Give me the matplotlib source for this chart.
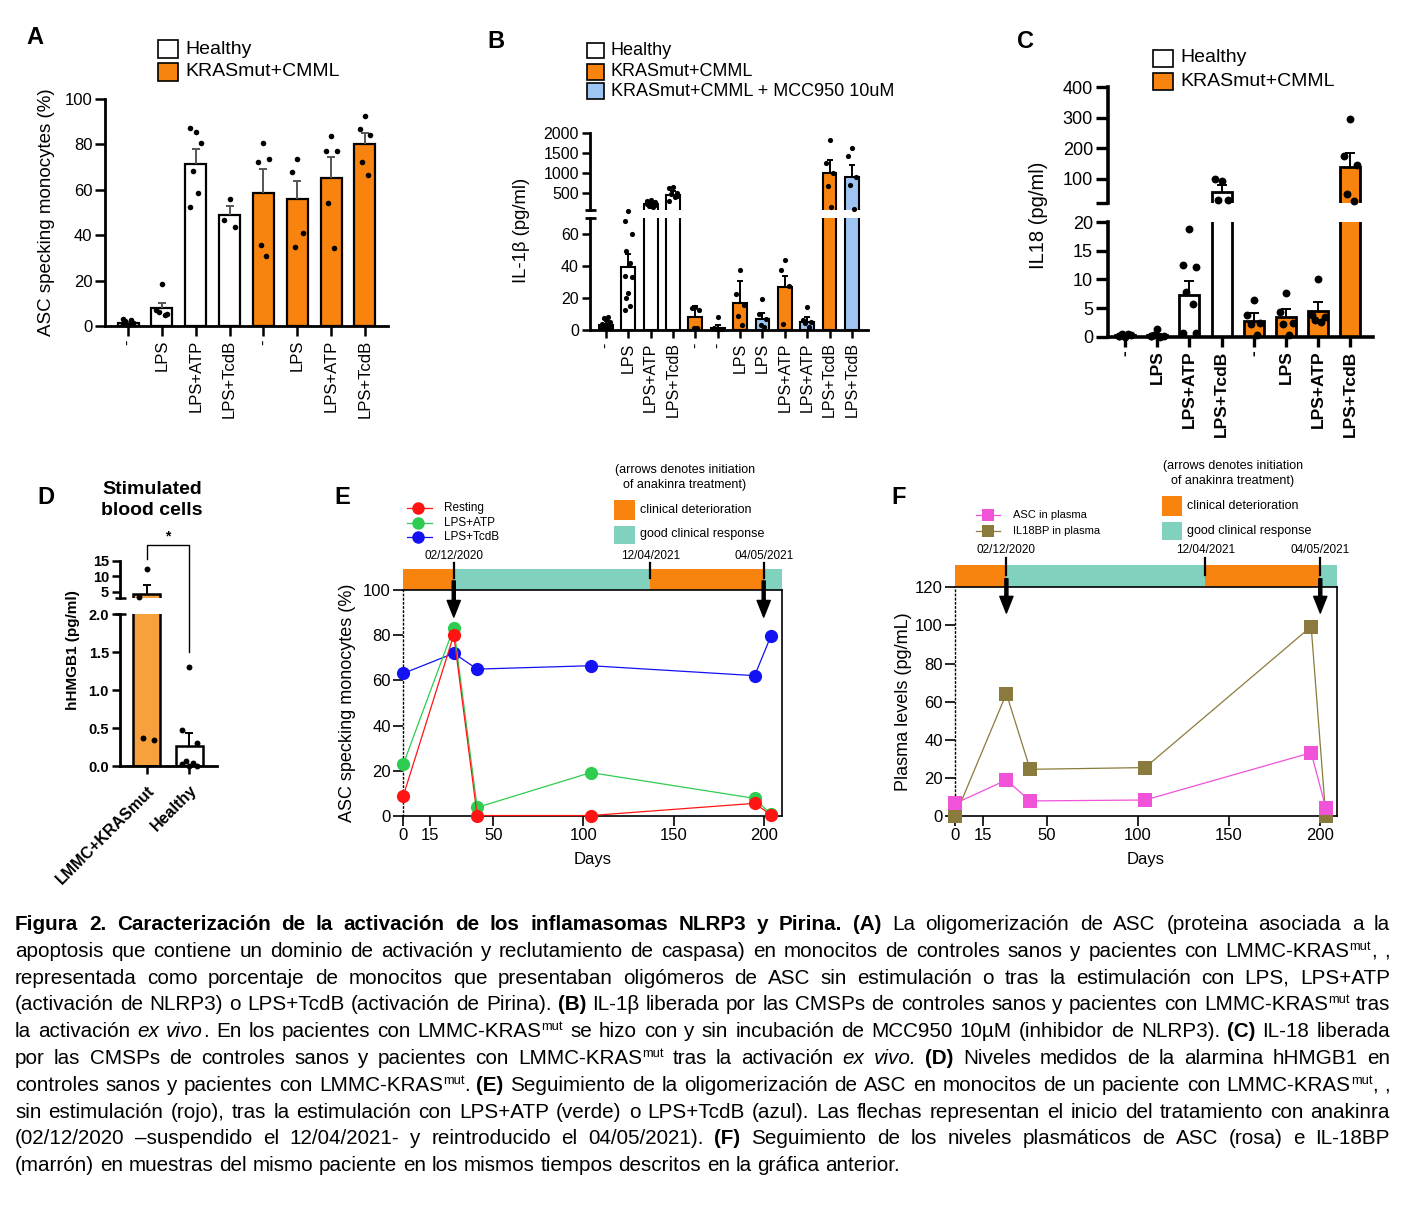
import numpy as np
import matplotlib
matplotlib.use('Agg')
import matplotlib.pyplot as plt
from matplotlib.patches import Rectangle
from matplotlib.lines import Line2D

# ------------------------------------------------------------------ data
A_labels = ['-', 'LPS', 'LPS+ATP', 'LPS+TcdB', '-', 'LPS', 'LPS+ATP', 'LPS+TcdB']
A_group = ['H', 'H', 'H', 'H', 'K', 'K', 'K', 'K']
A_mean = [1.5, 8.0, 71.5, 49.0, 58.5, 56.0, 65.0, 80.0]
A_sem = [0.4, 2.2, 6.3, 3.7, 10.5, 8.0, 9.6, 4.9]
A_points = [[0.5, 1.0, 1.5, 2.0, 2.5, 3.0, 1.2],
            [18.7, 7.0, 5.5, 6.2, 5.0],
            [85.6, 87.1, 80.5, 68.3, 58.4, 52.6],
            [56.0, 46.7, 43.5],
            [80.5, 72.4, 73.4, 35.7, 30.8],
            [73.4, 68.0, 40.8, 34.7],
            [83.7, 77.1, 77.1, 54.3, 34.2],
            [92.7, 86.6, 84.1, 72.4, 66.5]]

B_labels = ['-', 'LPS', 'LPS+ATP', 'LPS+TcdB', '-', '-', 'LPS', 'LPS',
            'LPS+ATP', 'LPS+ATP', 'LPS+TcdB', 'LPS+TcdB']
B_group = ['H', 'H', 'H', 'H', 'K', 'M', 'K', 'M', 'K', 'M', 'K', 'M']
B_mean = [3.0, 39.5, 240, 460, 7.9, 1.5, 17.1, 6.7, 26.8, 5.0, 1015, 915]
B_sem = [0.8, 7.9, 25, 90, 7.0, 1.5, 13.6, 3.7, 7.2, 2.9, 320, 290]
B_points = [[0.5, 1.0, 1.5, 2.0, 3.0, 4.0, 5.0, 6.0, 7.5, 8.0, 2.5, 1.0],
            [74.6, 68.3, 60.0, 49.7, 41.8, 34.0, 33.0, 23.0, 19.8, 15.0, 12.5],
            [330, 300, 280, 260, 240, 220, 200, 190, 170, 150, 280, 230],
            [650, 640, 500, 480, 400, 300, 420],
            [14.5, 14.0, 12.5, 1.5, 1.5],
            [7.9, 1.0, 0.4, 0.4, 0.5],
            [37.6, 22.4, 15.5, 8.8, 3.1],
            [19.4, 9.8, 6.7, 3.1, 2.0],
            [43.9, 37.6, 27.6, 3.8],
            [14.2, 6.3, 4.8, 4.2, 2.0],
            [1833, 1250, 1015, 683, 165],
            [1625, 1433, 915, 708, 100]]

C_labels = ['-', 'LPS', 'LPS+ATP', 'LPS+TcdB', '-', 'LPS', 'LPS+ATP', 'LPS+TcdB']
C_group = ['H', 'H', 'H', 'H', 'K', 'K', 'K', 'K']
C_mean = [0.3, 0.3, 7.3, 58.5, 2.8, 3.5, 4.5, 138]
C_sem = [0.1, 0.2, 2.5, 21, 1.3, 1.3, 1.5, 48]
C_points = [[0.0, 0.2, 0.3, 0.4, 0.5, 0.1],
            [1.3, 0.2, 0.1, 0.3, 0.0, 0.2],
            [18.8, 12.5, 12.2, 7.9, 5.7, 0.7, 0.7],
            [93.5, 99.0, 31.0, 32.0],
            [6.5, 3.8, 2.4, 2.2, 0.3],
            [7.7, 4.4, 2.4, 2.3, 0.3],
            [10.0, 3.8, 3.5, 2.9, 2.6],
            [295, 175, 146, 51, 26]]

D_labels = ['LMMC+KRASmut', 'Healthy']
D_group = ['D', 'H']
D_mean = [4.3, 0.26]
D_sem = [2.7, 0.17]
D_points = [[12.3, 3.2, 0.34, 0.37],
            [1.3, 0.48, 0.30, 0.06, 0.04, 0.03, 0.0, 0.0]]

E_days = [0, 28, 41, 104, 195, 204]
E_series = ['Resting', 'LPS+ATP', 'LPS+TcdB']
E_resting = [8.9, 80.1, 0.2, 0.2, 5.6, 0.5]
E_lpsatp = [22.9, 83.3, 3.8, 19.2, 7.8, 0.7]
E_lpstcdb = [63.1, 72.0, 65.0, 66.5, 62.1, 79.6]

F_days = [0, 28, 41, 104, 195, 203]
F_series = ['ASC in plasma', 'IL18BP in plasma']
F_asc = [6.6, 18.9, 7.9, 8.4, 33.2, 4.4]
F_il18bp = [0.2, 64.2, 24.5, 25.4, 99.4, 0.0]

phase_start = [0, 28, 137, 200]
phase_end_E = [28, 137, 200, 210]
phase_end_F = [28, 137, 200, 209]
phase_kind = ['det', 'good', 'det', 'good']
date_days = [28, 137, 200]
date_labels = ['02/12/2020', '12/04/2021', '04/05/2021']
arrow_days = [28, 200]

caption_lines = [
    "*Figura 2. Caracterización de la activación de los inflamasomas NLRP3 y Pirina. (A)* La oligomerización de ASC (proteina asociada a la",
    "apoptosis que contiene un dominio de activación y reclutamiento de caspasa) en monocitos de controles sanos y pacientes con LMMC-KRAS^mut^, ,",
    "representada como porcentaje de monocitos que presentaban oligómeros de ASC sin estimulación o tras la estimulación con LPS, LPS+ATP",
    "(activación de NLRP3) o LPS+TcdB (activación de Pirina). *(B)* IL-1β liberada por las CMSPs de controles sanos y pacientes con LMMC-KRAS^mut^ tras",
    "la activación _ex vivo_. En los pacientes con LMMC-KRAS^mut^ se hizo con y sin incubación de MCC950 10µM (inhibidor de NLRP3). *(C)* IL-18 liberada",
    "por las CMSPs de controles sanos y pacientes con LMMC-KRAS^mut^ tras la activación _ex vivo._ *(D)* Niveles medidos de la alarmina hHMGB1 en",
    "controles sanos y pacientes con LMMC-KRAS^mut^. *(E)* Seguimiento de la oligomerización de ASC en monocitos de un paciente con LMMC-KRAS^mut^, ,",
    "sin estimulación (rojo), tras la estimulación con LPS+ATP (verde) o LPS+TcdB (azul). Las flechas representan el inicio del tratamiento con anakinra",
    "(02/12/2020 –suspendido el 12/04/2021- y reintroducido el 04/05/2021). *(F)* Seguimiento de los niveles plasmáticos de ASC (rosa) e IL-18BP",
    "(marrón) en muestras del mismo paciente en los mismos tiempos descritos en la gráfica anterior.",
]

# ------------------------------------------------------------------ style
ORANGE = '#F8830F'
BLUE = '#9DC4F2'
TEAL = '#80D1BE'
DORANGE = '#F7A13E'
gcol = {'H': 'white', 'K': ORANGE, 'M': BLUE, 'D': DORANGE}
phase_col = {'det': ORANGE, 'good': TEAL}

plt.rcParams['font.family'] = ['Liberation Sans', 'DejaVu Sans']

W, H = 1402, 1224
fig = plt.figure(figsize=(W / 100, H / 100), dpi=100)


def R(l, t, r, b):
    return [l / W, 1 - b / H, (r - l) / W, (b - t) / H]


def ftext(x, y, s, **kw):
    return fig.text(x / W, 1 - y / H, s, **kw)


def fline(xs, ys, **kw):
    ln = Line2D([x / W for x in xs], [1 - y / H for y in ys], transform=fig.transFigure, **kw)
    fig.add_artist(ln)
    return ln


def frect(l, t, r, b, **kw):
    p = Rectangle((l / W, 1 - b / H), (r - l) / W, (b - t) / H, transform=fig.transFigure, **kw)
    fig.add_artist(p)
    return p


PATTERN = np.array([0, -1, 1, -0.5, 0.5, -1, 1, 0, -0.5, 0.5, -1, 1, 0])


def draw_bars(panes, mean, sem, groups, points, ecolor, dot_s, bar_lw, capsize, jit=0.16, width=0.62):
    """panes: list of (ax, vmin, vmax); points with vmin < v <= vmax go to that ax."""
    x = np.arange(len(mean))
    mean = np.asarray(mean, float)
    sem = np.asarray(sem, float)
    colors = np.array([gcol[g] for g in groups], dtype=object)
    for ax, vmin, vmax in panes:
        sel = mean > vmin
        if sel.any():
            ax.bar(x[sel], mean[sel], width=width, color=list(colors[sel]), edgecolor='k',
                   linewidth=bar_lw, zorder=2)
        sel = (mean + sem) > vmin
        if sel.any():
            _, caps, _ = ax.errorbar(x[sel], mean[sel], yerr=[np.zeros(sel.sum()), sem[sel]], fmt='none',
                                     ecolor=ecolor, elinewidth=1.4, capsize=capsize, capthick=1.4, zorder=3)
            caps[0].set_visible(False)
        for xi, pts in zip(x, points):
            pts = np.asarray(pts, float)
            off = jit * PATTERN[:len(pts)]
            m = (pts > vmin) & (pts <= vmax)
            if m.any():
                ax.scatter(xi + off[m], pts[m], s=dot_s, color='k', zorder=4, linewidths=0, clip_on=False)
    return x


def style_bar_axes(ax, spine_lw, ylen, xlen, tw, lsize):
    for s in ['top', 'right']:
        ax.spines[s].set_visible(False)
    for s in ['left', 'bottom']:
        ax.spines[s].set_linewidth(spine_lw)
    ax.tick_params(axis='y', direction='out', length=ylen, width=tw, labelsize=lsize, pad=2)
    ax.tick_params(axis='x', direction='out', length=xlen, width=tw, labelsize=lsize, pad=3)
    ax.set_facecolor('none')


def upper_style(ax):
    for s in ['top', 'right', 'bottom']:
        ax.spines[s].set_visible(False)
    ax.tick_params(axis='x', bottom=False, labelbottom=False)


def break_marks(ax, yfrac, lw, left_px=5, right_px=6):
    bb = ax.get_position()
    wpx = bb.width * W
    ax.plot([-left_px / wpx, right_px / wpx], [yfrac, yfrac], transform=ax.transAxes,
            color='k', lw=lw, clip_on=False, solid_capstyle='butt')


INF = np.inf

# ================================================================== Panel A
axA = fig.add_axes(R(105, 99, 388, 326))
xA = draw_bars([(axA, -INF, INF)], A_mean, A_sem, A_group, A_points, '#555555', 16, 1.6, 3)
axA.set_xlim(-0.68, 7.68)
axA.set_ylim(0, 100)
axA.set_yticks([0, 20, 40, 60, 80, 100])
axA.set_xticks(xA, A_labels, rotation=90)
style_bar_axes(axA, 2.0, 7, 7, 1.8, 12)
ftext(47, 212, 'ASC specking monocytes (%)', rotation=90, ha='center', va='center', fontsize=13.5)
ftext(35, 38, 'A', fontsize=17, fontweight='bold', ha='center', va='center')
frect(158, 40, 178, 58, facecolor='white', edgecolor='k', lw=1.2)
frect(158, 63, 178, 81, facecolor=ORANGE, edgecolor='k', lw=1.2)
ftext(185, 49, 'Healthy', fontsize=14, va='center')
ftext(185, 72, 'KRASmut+CMML', fontsize=14, va='center')

# ================================================================== Panel B
B_lo_top, B_up_bot = 70, 80
axB_lo = fig.add_axes(R(590, 218.3, 868, 330))
axB_up = fig.add_axes(R(590, 133.3, 868, 210))
xB = draw_bars([(axB_lo, -INF, B_up_bot), (axB_up, B_up_bot, INF)], B_mean, B_sem, B_group, B_points,
               'k', 14, 1.5, 2.5, jit=0.17)
for ax in (axB_lo, axB_up):
    ax.set_xlim(-0.716, 11.72)
axB_lo.set_ylim(0, B_lo_top)
axB_up.set_ylim(B_up_bot, 2000)
axB_lo.set_yticks([0, 20, 40, 60])
axB_up.set_yticks([500, 1000, 1500, 2000])
axB_lo.set_xticks(xB, B_labels, rotation=90)
style_bar_axes(axB_lo, 2.0, 6, 6, 1.8, 11.5)
style_bar_axes(axB_up, 2.0, 6, 6, 1.8, 11.5)
upper_style(axB_up)
break_marks(axB_up, 0, 2.0)
break_marks(axB_lo, 1, 2.0)
ftext(521, 230, 'IL-1β (pg/ml)', rotation=90, ha='center', va='center', fontsize=13.3)
ftext(496, 41, 'B', fontsize=17, fontweight='bold', ha='center', va='center')
for (t, b), g, lab in zip([(43, 58), (63.5, 79.5), (83, 99)], ['H', 'K', 'M'],
                          ['Healthy', 'KRASmut+CMML', 'KRASmut+CMML + MCC950 10uM']):
    frect(587, t, 604, b, facecolor=gcol[g], edgecolor='k', lw=1.2)
    ftext(611, (t + b) / 2, lab, fontsize=13, va='center')

# ================================================================== Panel C
C_split = 20
axC_lo = fig.add_axes(R(1108.3, 222.3, 1372.7, 336.7))
axC_up = fig.add_axes(R(1108.3, 87.3, 1372.7, 203.3))
xC = draw_bars([(axC_lo, -INF, C_split), (axC_up, C_split, INF)], C_mean, C_sem, C_group, C_points,
               'k', 32, 2.0, 3.5, jit=0.2)
for ax in (axC_lo, axC_up):
    ax.set_xlim(-0.52, 7.69)
axC_lo.set_ylim(0, C_split)
axC_up.set_ylim(C_split, 400)
axC_lo.set_yticks([0, 5, 10, 15, 20])
axC_up.set_yticks([20, 100, 200, 300, 400], ['', '100', '200', '300', '400'])
axC_lo.set_xticks(xC, C_labels, rotation=90, fontweight='bold')
style_bar_axes(axC_lo, 2.6, 9, 7, 2.4, 13)
style_bar_axes(axC_up, 2.6, 9, 7, 2.4, 13)
upper_style(axC_up)
axC_lo.tick_params(axis='x', labelsize=12.5)
ftext(1038, 215, 'IL18 (pg/ml)', rotation=90, ha='center', va='center', fontsize=14.5)
ftext(1025, 41, 'C', fontsize=17, fontweight='bold', ha='center', va='center')
frect(1153, 50, 1173, 67, facecolor='white', edgecolor='k', lw=1.2)
frect(1153, 73, 1173, 90, facecolor=ORANGE, edgecolor='k', lw=1.2)
ftext(1180, 58, 'Healthy', fontsize=14, va='center')
ftext(1180, 81.5, 'KRASmut+CMML', fontsize=14, va='center')

# ================================================================== Panel D
D_lo_top, D_up_bot = 2.0, 2.8
axD_lo = fig.add_axes(R(120, 614, 216.7, 766))
axD_up = fig.add_axes(R(120, 560.7, 216.7, 598.3))
xD = draw_bars([(axD_lo, -INF, D_up_bot), (axD_up, D_up_bot, INF)], D_mean, D_sem, D_group, D_points,
               'k', 18, 1.8, 3, jit=0.18, width=0.63)
for ax in (axD_lo, axD_up):
    ax.set_xlim(-0.627, 1.64)
axD_lo.set_ylim(0, D_lo_top)
axD_up.set_ylim(D_up_bot, 15)
axD_lo.set_yticks([0, 0.5, 1.0, 1.5, 2.0], ['0.0', '0.5', '1.0', '1.5', '2.0'])
axD_up.set_yticks([5, 10, 15])
axD_lo.set_xticks(xD, D_labels, rotation=45, ha='right', rotation_mode='anchor', fontweight='bold')
style_bar_axes(axD_lo, 2.0, 6, 6, 1.8, 10.5)
style_bar_axes(axD_up, 2.0, 6, 6, 1.8, 10.5)
upper_style(axD_up)
axD_lo.tick_params(axis='x', labelsize=11.5, pad=6)
for ax in (axD_lo, axD_up):
    for t in ax.get_yticklabels():
        t.set_fontweight('bold')
break_marks(axD_up, 0, 1.8)
break_marks(axD_lo, 1, 1.8)
p = axD_lo.transData.transform((1, 1.5))
v_right = axD_up.transData.inverted().transform(p)[1]
axD_up.plot([0, 0, 1, 1], [15.4, 20, 20, v_right], color='k', lw=1.0, clip_on=False)
axD_up.text(0.5, 23, '*', ha='center', va='center', fontsize=10, fontweight='bold')
ftext(73, 650, 'hHMGB1 (pg/ml)', rotation=90, ha='center', va='center', fontsize=11, fontweight='bold')
ftext(152, 500, 'Stimulated\nblood cells', ha='center', va='center', fontsize=14,
      fontweight='bold', linespacing=1.25)
ftext(46, 498, 'D', fontsize=17, fontweight='bold', ha='center', va='center')


# ================================================================== Panels E & F
def timeline_axes(rect_main, rect_bar, xmax, ends, ymax, yticks, arrow_tip, arrow_top, date_off):
    axb = fig.add_axes(rect_bar)
    ax = fig.add_axes(rect_main)
    axb.set_xlim(0, xmax)
    axb.set_ylim(0, 1)
    axb.axis('off')
    for s, e, k in zip(phase_start, ends, phase_kind):
        axb.barh(0.5, e - s, left=s, height=1.0, color=phase_col[k], linewidth=0)
    for d, lab in zip(date_days, date_labels):
        axb.plot([d, d], [0.55, 1.3], color='k', lw=1.6, clip_on=False)
        axb.text(d, date_off, lab, ha='center', va='bottom', fontsize=8.5)
    ax.set_xlim(0, xmax)
    ax.set_ylim(0, ymax)
    ax.set_yticks(yticks)
    ax.set_xticks([0, 15, 50, 100, 150, 200])
    ax.spines['left'].set_linestyle((0, (1, 2)))
    ax.spines['left'].set_linewidth(1.0)
    for s in ['top', 'right', 'bottom']:
        ax.spines[s].set_linewidth(1.2)
    ax.tick_params(direction='out', length=7, width=1.2, labelsize=12, pad=2)
    ax.set_facecolor('none')
    for d in arrow_days:
        ax.annotate('', xy=(d, arrow_tip), xytext=(d, arrow_top),
                    arrowprops=dict(facecolor='k', edgecolor='k', width=2.2, headwidth=9.5,
                                    headlength=12, shrink=0),
                    annotation_clip=False, zorder=6)
    return ax


axE = timeline_axes(R(403.3, 590, 781.7, 816), R(403.3, 569, 781.7, 590), 210, phase_end_E,
                    100, [0, 20, 40, 60, 80, 100], 88, 104, 1.35)
E_colors = ['#FF1414', '#2ECC50', '#1212F2']
for ys, c in zip([E_lpstcdb, E_lpsatp, E_resting], [E_colors[2], E_colors[1], E_colors[0]]):
    axE.plot(E_days, ys, '-o', color=c, lw=0.9, ms=9.5, mew=0, clip_on=False, zorder=4)
axE.set_xlabel('Days', fontsize=12, labelpad=6)
ftext(347, 703, 'ASC specking monocytes (%)', rotation=90, ha='center', va='center', fontsize=13)
ftext(342, 497, 'E', fontsize=17, fontweight='bold', ha='center', va='center')
for yy, c, lab in zip([508, 523, 536.5], E_colors, E_series):
    fline([407, 432], [yy, yy], color=c, lw=0.9)
    fline([418], [yy], color=c, marker='o', ms=9, mew=0, lw=0)
    ftext(444, yy, lab, fontsize=8.5, va='center')
ftext(685, 470, '(arrows denotes initiation', fontsize=9, ha='center', va='center')
ftext(685, 485, 'of anakinra treatment)', fontsize=9, ha='center', va='center')
frect(614, 500, 635, 520, facecolor=ORANGE, lw=0)
frect(614, 526, 635, 544, facecolor=TEAL, lw=0)
ftext(640, 510, 'clinical deterioration', fontsize=9, va='center')
ftext(640, 534.5, 'good clinical response', fontsize=9, va='center')

axF = timeline_axes(R(955.3, 587.3, 1336.7, 816), R(955.3, 565, 1336.7, 587.3), 209, phase_end_F,
                    120, [0, 20, 40, 60, 80, 100, 120], 106.5, 124.5, 1.4)
F_colors = ['#F052D8', '#8A7B3C']
for ys, c in zip([F_il18bp, F_asc], [F_colors[1], F_colors[0]]):
    axF.plot(F_days, ys, '-s', color=c, lw=0.9, ms=10, mew=0, clip_on=False, zorder=4)
axF.set_xlabel('Days', fontsize=12, labelpad=6)
ftext(903, 702, 'Plasma levels (pg/mL)', rotation=90, ha='center', va='center', fontsize=13)
ftext(899, 497, 'F', fontsize=17, fontweight='bold', ha='center', va='center')
for yy, c, lab in zip([515, 531], F_colors, F_series):
    fline([976, 1000], [yy, yy], color=c, lw=0.9)
    fline([988], [yy], color=c, marker='s', ms=9, mew=0, lw=0)
    ftext(1013, yy, lab, fontsize=8, va='center')
ftext(1233, 466, '(arrows denotes initiation', fontsize=9, ha='center', va='center')
ftext(1233, 481, 'of anakinra treatment)', fontsize=9, ha='center', va='center')
frect(1161.7, 495.7, 1181.7, 515.7, facecolor=ORANGE, lw=0)
frect(1161.7, 522, 1181.7, 540, facecolor=TEAL, lw=0)
ftext(1187, 506, 'clinical deterioration', fontsize=9, va='center')
ftext(1187, 531, 'good clinical response', fontsize=9, va='center')


# ================================================================== Caption
def parse(line):
    words, cur = [], []
    buf = ''
    st = {'b': False, 'i': False, 's': False}
    for ch in line:
        if ch in '*_^':
            if buf:
                cur.append((buf, dict(st)))
                buf = ''
            key = {'*': 'b', '_': 'i', '^': 's'}[ch]
            st[key] = not st[key]
        elif ch == ' ':
            if buf:
                cur.append((buf, dict(st)))
                buf = ''
            if cur:
                words.append(cur)
                cur = []
        else:
            buf += ch
    if buf:
        cur.append((buf, dict(st)))
    if cur:
        words.append(cur)
    return words


cap_fs = 14.9
cap_x0, cap_x1 = 15, 1390
cap_base, cap_step = 930, 26.8
renderer = fig.canvas.get_renderer()
for li, line in enumerate(caption_lines):
    y = cap_base + li * cap_step
    words = parse(line)
    items, widths = [], []
    for word in words:
        objs, ww = [], 0.0
        for txt, st in word:
            kw = dict(fontsize=cap_fs, va='baseline', ha='left')
            dy = 0
            if st['b']:
                kw['fontweight'] = 'bold'
            if st['i']:
                kw['fontstyle'] = 'italic'
            if st['s']:
                kw['fontsize'] = cap_fs * 0.62
                dy = -7
            t = ftext(0, y + dy, txt, **kw)
            w = t.get_window_extent(renderer).width
            objs.append((t, ww, dy))
            ww += w
        items.append(objs)
        widths.append(ww)
    last = li == len(caption_lines) - 1
    nat_gap = cap_fs * 100 / 72 * 0.278
    if last or len(words) < 2:
        gap = nat_gap
    else:
        gap = (cap_x1 - cap_x0 - sum(widths)) / (len(words) - 1)
        gap = max(gap, 1.5)
    x = cap_x0
    for objs, ww in zip(items, widths):
        for t, off, dy in objs:
            t.set_position(((x + off) / W, 1 - (y + dy) / H))
        x += ww + gap

fig.savefig('out.png', dpi=100, facecolor='white')
